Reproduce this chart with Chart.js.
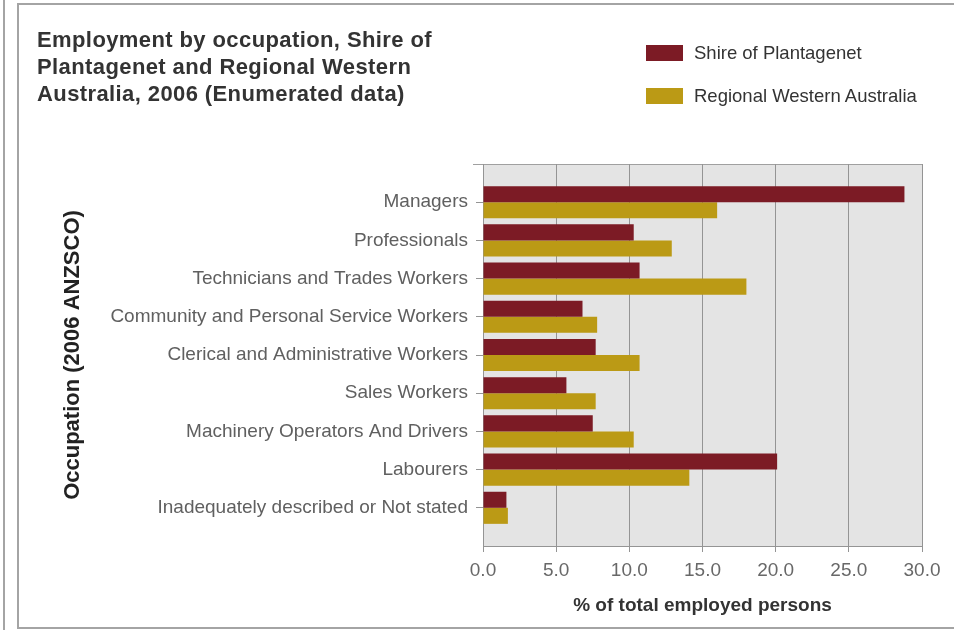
<!DOCTYPE html>
<html>
<head>
<meta charset="utf-8">
<title>Employment by occupation</title>
<script src="https://cdn.jsdelivr.net/npm/chart.js@4"></script>
<style>
  html, body { margin: 0; padding: 0; background: #fff; }
  body { width: 954px; height: 630px; position: relative; overflow: hidden; font-family: "Liberation Sans", Arial, sans-serif; }
  #c { position: absolute; left: 0; top: 0; }
  .frame { position: absolute; left: 17px; top: 3px; width: 960px; height: 622px; border: 2px solid #a4a4a4; }
  .outer { position: absolute; left: 3px; top: 0; width: 2px; height: 630px; background: #a4a4a4; }
  .title { position: absolute; left: 37px; top: 26px; font-size: 22px; line-height: 27px; font-weight: bold; color: #333; letter-spacing: 0.4px; }
  .legend { position: absolute; left: 646px; top: 44px; }
  .legend div { position: relative; height: 43px; font-size: 18.5px; color: #333; }
  .legend span.sw { position: absolute; left: 0; top: 1px; width: 37px; height: 16px; }
  .legend span.tx { position: absolute; left: 48px; top: -2px; white-space: nowrap; }
</style>
</head>
<body>
<div class="outer"></div>
<div class="frame"></div>
<canvas id="c" width="954" height="630"></canvas>
<div class="title">Employment by occupation, Shire of<br>Plantagenet and Regional Western<br>Australia, 2006 (Enumerated data)</div>
<div class="legend" id="legend"></div>
<script>
var occupations = [
  "Managers",
  "Professionals",
  "Technicians and Trades Workers",
  "Community and Personal Service Workers",
  "Clerical and Administrative Workers",
  "Sales Workers",
  "Machinery Operators And Drivers",
  "Labourers",
  "Inadequately described or Not stated"
];
var shire = [28.8, 10.3, 10.7, 6.8, 7.7, 5.7, 7.5, 20.1, 1.6];
var regional = [16.0, 12.9, 18.0, 7.8, 10.7, 7.7, 10.3, 14.1, 1.7];
var seriesNames = ["Shire of Plantagenet", "Regional Western Australia"];
var seriesColors = ["#7c1b25", "#bb9a15"];

var fontFam = '"Liberation Sans", Arial, sans-serif';

// gray plot box behind the bars
var plotBox = {
  id: "plotBox",
  beforeDraw: function (chart) {
    var a = chart.chartArea, ctx = chart.ctx;
    ctx.save();
    ctx.fillStyle = "#e4e4e4";
    ctx.fillRect(a.left, a.top, a.right - a.left, a.bottom - a.top);
    ctx.strokeStyle = "#a0a0a0";
    ctx.lineWidth = 1;
    ctx.beginPath();
    ctx.moveTo(a.left - 10, a.top + 0.5);
    ctx.lineTo(a.right, a.top + 0.5);
    ctx.stroke();
    ctx.restore();
  }
};

var chart = new Chart(document.getElementById("c"), {
  type: "bar",
  data: {
    labels: occupations,
    datasets: [
      { label: seriesNames[0], data: shire, backgroundColor: seriesColors[0] },
      { label: seriesNames[1], data: regional, backgroundColor: seriesColors[1] }
    ]
  },
  options: {
    indexAxis: "y",
    responsive: false,
    animation: false,
    devicePixelRatio: 1,
    layout: { padding: { left: 60, top: 164, right: 32, bottom: 10 } },
    datasets: { bar: { categoryPercentage: 0.84, barPercentage: 1.0, borderWidth: 0 } },
    plugins: { legend: { display: false }, title: { display: false }, tooltip: { enabled: false } },
    scales: {
      x: {
        min: 0, max: 30,
        ticks: { stepSize: 5, color: "#686868", padding: 7, font: { family: fontFam, size: 19 },
          callback: function (v) { return v.toFixed(1); } },
        grid: { color: "#949494", tickLength: 6, tickColor: "#949494" },
        border: { color: "#949494" },
        title: { display: true, text: "% of total employed persons", color: "#333",
          font: { family: fontFam, size: 19, weight: "bold" }, padding: { top: 4, bottom: 3 } },
        afterFit: function (s) { s.height = 74; }
      },
      y: {
        offset: true,
        ticks: { color: "#606060", padding: 8, font: { family: fontFam, size: 19 } },
        grid: { drawOnChartArea: false, offset: false, tickLength: 7, tickColor: "#949494" },
        border: { color: "#949494" },
        title: { display: true, text: "Occupation (2006 ANZSCO)", color: "#222",
          font: { family: fontFam, size: 22, weight: "bold" }, padding: 0 },
        // one full empty step above the first and below the last category
        afterBuildTicks: function (s) { s._startValue -= 0.5; s._valueRange += 1; },
        afterFit: function (s) { s.width = 423; }
      }
    }
  },
  plugins: [plotBox]
});

// legend
var lg = document.getElementById("legend");
chart.data.datasets.forEach(function (ds) {
  var row = document.createElement("div");
  row.innerHTML = '<span class="sw" style="background:' + ds.backgroundColor + '"></span><span class="tx">' + ds.label + '</span>';
  lg.appendChild(row);
});
</script>
</body>
</html>
